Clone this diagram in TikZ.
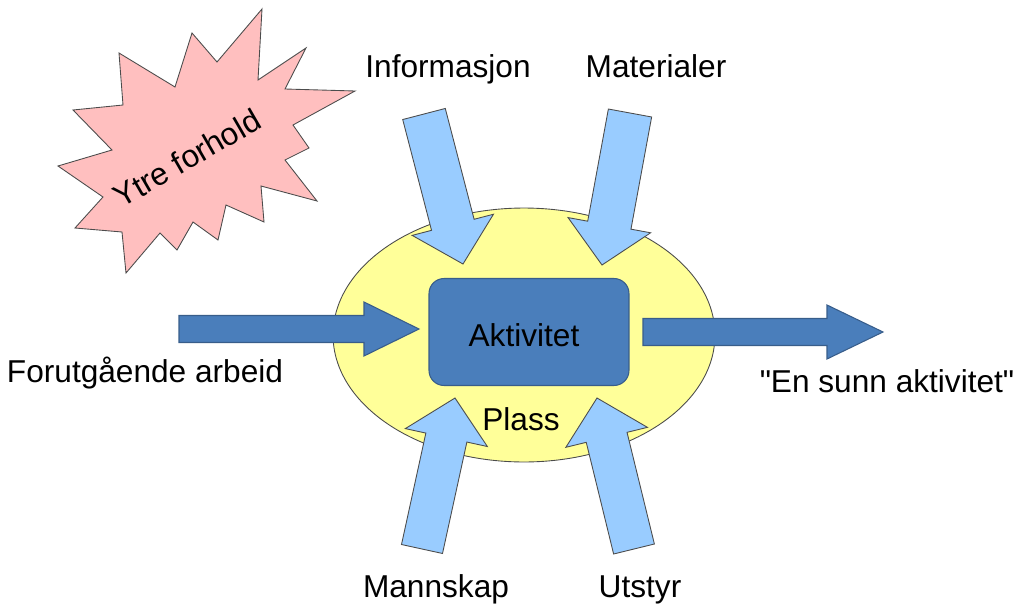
\documentclass[tikz,border=0pt]{standalone}
\usepackage{xcolor}
\usepackage{fontspec}
\setmainfont{Liberation Sans}[Ligatures=TeXOff]
\usepackage{tikz}
\usetikzlibrary{shapes.geometric, calc, positioning}

\definecolor{stjerne}{RGB}{255,191,191}
\definecolor{gulplass}{RGB}{255,255,153}
\definecolor{lysbla}{RGB}{153,204,255}
\definecolor{morkbla}{RGB}{74,126,187}
\definecolor{kantbla}{RGB}{56,93,138}

% block arrow: style, tail, tip, half shaft, half head, head length
\newcommand{\blokkpil}[6]{%
	\coordinate (#3-base) at ($(#3)!#6!(#2)$);
	\draw[#1] ($(#2)!#4!90:(#3)$) -- ($(#3-base)!#4!90:(#3)$) -- ($(#3-base)!#5!90:(#3)$) -- (#3)
		-- ($(#3-base)!#5!-90:(#3)$) -- ($(#3-base)!#4!-90:(#3)$) -- ($(#2)!#4!-90:(#3)$) -- cycle;
}

\begin{document}
\begin{tikzpicture}[x=0.02cm, y=-0.02cm, every node/.style={font=\fontsize{18}{20}\selectfont}]
		
		\tikzstyle{lyspil}=[draw=black!70, fill=lysbla, line width=0.5pt, line join=miter]
		\tikzstyle{morkpil}=[draw=kantbla, fill=morkbla, line width=0.6pt, line join=miter]
		\tikzstyle{tekst}=[anchor=base, inner sep=0pt]
		
		\useasboundingbox (0,0) rectangle (1017,605);
		
		% ytre forhold
		\draw [draw=black!70, fill=stjerne, line width=0.5pt, line join=miter]
			(262,9) -- (258,80) -- (306,48) -- (285,89) -- (355,91) -- (293,125) -- (309,148)
			-- (285,160) -- (317,201) -- (261,186) -- (264,222) -- (226,205) -- (218,240)
			-- (193,222) -- (177,250) -- (160,233) -- (126,273) -- (122,232) -- (75,228)
			-- (103,197) -- (58,166) -- (112,150) -- (73,110) -- (123,105) -- (119,53)
			-- (175,87) -- (192,33) -- (217,62) -- cycle;
		\node (ytre) at (187,158) [rotate=30, inner sep=0pt] {Ytre forhold};
		
		\node (plass) at (524,335) [ellipse, draw=black!70, fill=gulplass, line width=0.5pt, minimum width=7.64cm, minimum height=5.08cm] {};
		
		\coordinate (tinfo) at (424,114);
		\coordinate (pinfo) at (463,264);
		\coordinate (tmat) at (630,113);
		\coordinate (pmat) at (602,265);
		\coordinate (tmann) at (422,549);
		\coordinate (pmann) at (455,398);
		\coordinate (tutst) at (634,549);
		\coordinate (putst) at (597,398);
		
		\blokkpil{lyspil}{tinfo}{pinfo}{0.44cm}{0.84cm}{0.81cm}
		\blokkpil{lyspil}{tmat}{pmat}{0.44cm}{0.84cm}{0.81cm}
		\blokkpil{lyspil}{tmann}{pmann}{0.42cm}{0.84cm}{0.81cm}
		\blokkpil{lyspil}{tutst}{putst}{0.42cm}{0.84cm}{0.81cm}
		
		\node (aktiv) at (529,332) [draw=kantbla, fill=morkbla, line width=0.6pt, rounded corners=0.3cm, minimum width=4cm, minimum height=2.14cm] {};
		
		\coordinate (tforut) at (179,329);
		\coordinate (pforut) at (419,329);
		\coordinate (tsunn) at (643,332);
		\coordinate (psunn) at (883,332);
		
		\blokkpil{morkpil}{tforut}{pforut}{0.27cm}{0.54cm}{1.1cm}
		\blokkpil{morkpil}{tsunn}{psunn}{0.27cm}{0.54cm}{1.12cm}
		
		\node (aktivtxt) at (524,346) [tekst] {Aktivitet};
		\node (plasstxt) at (521,430) [tekst] {Plass};
		
		\node (info) at (448,77) [tekst] {Informasjon};
		\node (mat) at (656,77) [tekst] {Materialer};
		\node (forut) at (145,382) [tekst] {Forutgående arbeid};
		\node (sunn) at (887,392) [tekst] {"En sunn aktivitet"};
		\node (mann) at (436,597) [tekst] {Mannskap};
		\node (utst) at (640,597) [tekst] {Utstyr};
		
\end{tikzpicture}
\end{document}
